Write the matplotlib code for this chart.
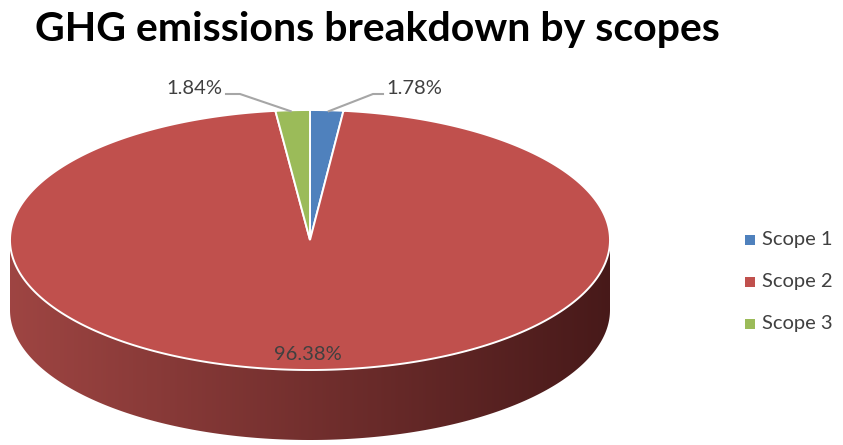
import matplotlib.pyplot as plt
import numpy as np
from matplotlib.patches import Polygon

plt.rcParams['font.family'] = ['Lato', 'DejaVu Sans']

# data
scopes = ["Scope 1", "Scope 2", "Scope 3"]
shares = [1.78, 96.38, 1.84]
colors = ["#4F81BD", "#C0504D", "#9BBB59"]
title = "GHG emissions breakdown by scopes"

W, H = 843, 445
fig = plt.figure(figsize=(W / 100, H / 100), dpi=100)
ax = fig.add_axes([0, 0, 1, 1])
ax.set_xlim(0, W)
ax.set_ylim(H, 0)
ax.axis('off')

# pie geometry (pixels)
cx, cy = 310, 240
a, b = 300, 130
depth = 70


def pt(t, dy=0.0):
    return cx + a * np.sin(t), cy - b * np.cos(t) + dy


# side wall (front half of ellipse), shaded left -> right
t = np.linspace(np.pi / 2, 3 * np.pi / 2, 200)[::-1]
top_x, top_y = pt(t)
bot_x, bot_y = pt(t[::-1], depth)
side = Polygon(np.column_stack([np.r_[top_x, bot_x], np.r_[top_y, bot_y]]),
               closed=True, facecolor='none', edgecolor='none')
ax.add_patch(side)
grad = np.linspace(0, 1, 256).reshape(1, -1)
c0 = np.array([0.62, 0.27, 0.26])
c1 = np.array([0.28, 0.10, 0.10])
img = c0 + (c1 - c0) * grad[..., None]
im = ax.imshow(img, extent=[cx - a, cx + a, cy + b + depth, cy], aspect='auto',
               interpolation='bilinear', zorder=1)
im.set_clip_path(side)

# top face slices, clockwise from 12 o'clock
frac = np.array(shares) / sum(shares)
edges = np.r_[0, np.cumsum(frac)] * 2 * np.pi
mids = []
for i, (s, e) in enumerate(zip(edges[:-1], edges[1:])):
    tt = np.linspace(s, e, max(int(300 * (e - s)), 3))
    xs, ys = pt(tt)
    poly = Polygon(np.column_stack([np.r_[cx, xs], np.r_[cy, ys]]), closed=True,
                   facecolor=colors[i], edgecolor='white', linewidth=1.4, zorder=2)
    ax.add_patch(poly)
    mids.append((s + e) / 2)

# labels
lbl_color = '#404040'
line_color = '#A6A6A6'
fs = 14.5
# Scope 2 inside
ax.text(308, 355, f"{shares[1]:.2f}%", ha='center', va='center', fontsize=fs, color=lbl_color, zorder=3)
# Scope 1 with leader
x0, y0 = pt(mids[0])
ax.plot([x0 + 2, 373, 383], [y0 + 1, 94, 94], color=line_color, lw=1.5, zorder=3)
ax.text(386, 88, f"{shares[0]:.2f}%", ha='left', va='center', fontsize=fs, color=lbl_color)
# Scope 3 with leader
x2, y2 = pt(mids[2])
ax.plot([x2 - 2, 240, 226], [y2 + 1, 94, 94], color=line_color, lw=1.5, zorder=3)
ax.text(222, 88, f"{shares[2]:.2f}%", ha='right', va='center', fontsize=fs, color=lbl_color)

# title
ax.text(377, 30, title, ha='center', va='center', fontsize=29.5, fontweight='bold', color='black')

# legend
for i, name in enumerate(scopes):
    yy = 240 + 42 * i
    ax.add_patch(plt.Rectangle((745, yy - 5), 10, 10, facecolor=colors[i], edgecolor='none'))
    ax.text(762, yy, name, ha='left', va='center', fontsize=14.5, color=lbl_color)

fig.savefig('out.png', dpi=100)
